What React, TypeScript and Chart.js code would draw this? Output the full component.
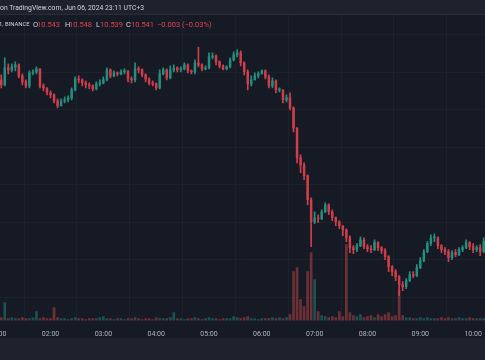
import React, { useEffect, useRef } from "react";
import { Chart, registerables } from "chart.js";

Chart.register(...registerables);

// 4-minute candles starting at 01:04 (minutes since 00:00)
const START_MIN = 64;
const STEP_MIN = 4;
const FIRST_OPEN = 12.2;

const closes = [
  12.15, 12.32, 12.30, 12.33, 12.35, 12.24, 12.18, 12.14, 12.27, 12.28,
  12.31, 12.14, 12.12, 12.07, 12.05, 11.99, 11.94, 11.99, 12.00, 12.02,
  12.10, 12.21, 12.20, 12.17, 12.15, 12.14, 12.11, 12.16, 12.17, 12.20,
  12.30, 12.24, 12.27, 12.26, 12.28, 12.29, 12.21, 12.20, 12.31, 12.30,
  12.25, 12.21, 12.17, 12.16, 12.12, 12.26, 12.30, 12.22, 12.30, 12.32,
  12.30, 12.31, 12.35, 12.29, 12.28, 12.37, 12.35, 12.31, 12.32, 12.43,
  12.44, 12.38, 12.34, 12.31, 12.33, 12.40, 12.45, 12.47, 12.37, 12.28,
  12.16, 12.20, 12.24, 12.26, 12.29, 12.23, 12.14, 12.19, 12.10, 12.10,
  12.00, 12.02, 11.92, 11.72, 11.42, 11.35, 11.24, 11.00, 10.78, 10.82,
  10.81, 10.88, 10.95, 10.88, 10.82, 10.78, 10.74, 10.70, 10.62, 10.52,
  10.50, 10.54, 10.60, 10.53, 10.51, 10.50, 10.57, 10.52, 10.49, 10.43,
  10.33, 10.28, 10.23, 10.15, 10.13, 10.19, 10.25, 10.24, 10.32, 10.39,
  10.48, 10.56, 10.62, 10.62, 10.54, 10.50, 10.48, 10.42, 10.47, 10.45,
  10.50, 10.52, 10.57, 10.53, 10.50, 10.52, 10.48, 10.58,
];

const highs = [
  12.25, 12.42, 12.36, 12.36, 12.38, 12.36, 12.26, 12.20, 12.29, 12.30,
  12.33, 12.31, 12.16, 12.12, 12.09, 12.06, 12.01, 12.01, 12.03, 12.04,
  12.12, 12.23, 12.24, 12.21, 12.19, 12.17, 12.15, 12.18, 12.20, 12.23,
  12.32, 12.31, 12.29, 12.28, 12.30, 12.31, 12.29, 12.23, 12.37, 12.33,
  12.31, 12.26, 12.22, 12.19, 12.17, 12.30, 12.32, 12.31, 12.34, 12.35,
  12.33, 12.33, 12.37, 12.36, 12.30, 12.40, 12.53, 12.36, 12.34, 12.47,
  12.47, 12.45, 12.39, 12.35, 12.34, 12.42, 12.48, 12.50, 12.49, 12.38,
  12.30, 12.24, 12.27, 12.28, 12.30, 12.30, 12.25, 12.22, 12.20, 12.12,
  12.10, 12.05, 12.07, 11.93, 11.72, 11.45, 11.37, 11.25, 11.02, 10.88,
  10.85, 10.90, 10.97, 10.96, 10.90, 10.83, 10.79, 10.74, 10.71, 10.64,
  10.54, 10.56, 10.63, 10.62, 10.55, 10.54, 10.60, 10.58, 10.53, 10.51,
  10.44, 10.34, 10.30, 10.24, 10.18, 10.21, 10.28, 10.28, 10.35, 10.42,
  10.50, 10.58, 10.65, 10.66, 10.63, 10.55, 10.52, 10.50, 10.49, 10.50,
  10.52, 10.54, 10.60, 10.58, 10.56, 10.54, 10.55, 10.62,
];

const lows = [
  12.12, 12.14, 12.26, 12.28, 12.29, 12.22, 12.15, 12.12, 12.12, 12.25,
  12.26, 12.12, 12.09, 12.05, 12.02, 11.97, 11.92, 11.94, 11.97, 11.98,
  12.00, 12.09, 12.17, 12.14, 12.12, 12.11, 12.09, 12.10, 12.14, 12.16,
  12.19, 12.22, 12.23, 12.24, 12.25, 12.26, 12.18, 12.17, 12.18, 12.27,
  12.23, 12.18, 12.15, 12.14, 12.10, 12.11, 12.25, 12.20, 12.21, 12.28,
  12.28, 12.28, 12.30, 12.27, 12.26, 12.26, 12.33, 12.29, 12.30, 12.31,
  12.41, 12.35, 12.32, 12.30, 12.30, 12.32, 12.39, 12.43, 12.34, 12.25,
  12.10, 12.14, 12.20, 12.22, 12.26, 12.21, 12.12, 12.12, 12.07, 12.08,
  11.97, 11.98, 11.90, 11.68, 11.37, 11.27, 11.20, 10.95, 10.53, 10.76,
  10.77, 10.80, 10.87, 10.85, 10.79, 10.74, 10.71, 10.64, 10.58, 10.47,
  10.46, 10.48, 10.53, 10.51, 10.48, 10.47, 10.49, 10.49, 10.46, 10.40,
  10.28, 10.24, 10.19, 10.04, 10.09, 10.11, 10.18, 10.22, 10.23, 10.31,
  10.38, 10.47, 10.54, 10.58, 10.51, 10.47, 10.45, 10.38, 10.40, 10.43,
  10.44, 10.48, 10.51, 10.50, 10.47, 10.48, 10.44, 10.47,
];

const volumes = [
  3, 18, 2, 3, 2, 2, 3, 2, 2, 3,
  9, 2, 3, 2, 2, 13, 3, 2, 2, 1,
  2, 3, 2, 2, 1, 2, 2, 2, 3, 4,
  2, 2, 1, 2, 2, 1, 2, 2, 3, 2,
  1, 2, 2, 1, 3, 2, 2, 2, 3, 8,
  2, 2, 1, 2, 2, 3, 2, 1, 2, 3,
  2, 2, 1, 2, 2, 2, 4, 3, 2, 3,
  4, 2, 2, 1, 2, 2, 2, 3, 2, 3,
  2, 3, 6, 49, 53, 21, 14, 49, 68, 41,
  9, 5, 4, 3, 4, 3, 9, 4, 76, 8,
  5, 4, 6, 3, 4, 5, 3, 6, 4, 6,
  8, 4, 5, 31, 5, 3, 3, 2, 2, 3,
  2, 3, 2, 2, 2, 3, 2, 3, 2, 2,
  3, 2, 2, 3, 2, 2, 2, 2,
];

const hourTicks = [60, 120, 180, 240, 300, 360, 420, 480, 540, 600];
const priceGrid = [10.025, 10.4, 10.775, 11.15, 11.525, 11.9, 12.275, 12.65];

const UP = "#23907f";
const DOWN = "#cf3f4b";
const UP_VOL = "rgba(38,166,154,0.4)";
const DOWN_VOL = "rgba(239,83,80,0.4)";

const BG = "#161a25";
const BAND = "#1e222d";

const fmtHour = (v: number) => {
  const h = Math.floor(v / 60);
  return (h < 10 ? "0" : "") + h + ":00";
};

const bgPlugin = {
  id: "bgPlugin",
  beforeDraw(chart: any) {
    const { ctx, width, height } = chart;
    ctx.save();
    ctx.fillStyle = BG;
    ctx.fillRect(0, 0, width, height);
    ctx.fillStyle = BAND;
    ctx.fillRect(0, 0, width, 14);
    ctx.fillStyle = "#2a2e39";
    ctx.fillRect(0, 14, width, 1);
    ctx.fillStyle = BAND;
    ctx.fillRect(0, 338, width, height - 338);
    ctx.restore();
  },
};

export default function App() {
  const ref = useRef<HTMLCanvasElement | null>(null);

  useEffect(() => {
    if (!ref.current) return;
    const times = closes.map((_, i) => START_MIN + i * STEP_MIN);
    const opens = closes.map((_, i) => (i === 0 ? FIRST_OPEN : closes[i - 1]));
    const up = closes.map((c, i) => c >= opens[i]);

    const chart = new Chart(ref.current, {
      type: "bar",
      data: {
        datasets: [
          {
            label: "Volume",
            yAxisID: "v",
            data: times.map((t, i) => ({ x: t, y: volumes[i] })) as any,
            backgroundColor: up.map((u) => (u ? UP_VOL : DOWN_VOL)),
            barThickness: 2,
            grouped: false,
            order: 3,
          } as any,
          {
            label: "Wicks",
            yAxisID: "y",
            data: times.map((t, i) => ({ x: t, y: [lows[i], highs[i]] })) as any,
            backgroundColor: up.map((u) => (u ? UP : DOWN)),
            barThickness: 1,
            grouped: false,
            order: 2,
          } as any,
          {
            label: "Bodies",
            yAxisID: "y",
            data: times.map((t, i) => ({ x: t, y: [opens[i], closes[i]] })) as any,
            backgroundColor: up.map((u) => (u ? UP : DOWN)),
            barThickness: 1.8,
            minBarLength: 1,
            grouped: false,
            order: 1,
          } as any,
        ],
      },
      options: {
        animation: false,
        responsive: false,
        maintainAspectRatio: false,
        layout: { padding: { top: 15, bottom: 13, left: 0, right: 0 } },
        plugins: { legend: { display: false }, tooltip: { enabled: false } },
        scales: {
          x: {
            type: "linear",
            min: 41.9,
            max: 636.2,
            offset: false,
            grid: { color: "#1d212c", drawTicks: false },
            border: { display: false },
            afterBuildTicks: (scale: any) => {
              scale.ticks = hourTicks.map((v) => ({ value: v }));
            },
            ticks: {
              autoSkip: false,
              maxRotation: 0,
              padding: 9,
              color: "#b2b5be",
              font: { family: "Roboto, sans-serif", size: 7 },
              callback: (v: any) => fmtHour(Number(v)),
            },
          },
          y: {
            type: "linear",
            min: 9.79,
            max: 12.85,
            grid: { color: "#1d212c", drawTicks: false },
            border: { display: false },
            afterBuildTicks: (scale: any) => {
              scale.ticks = priceGrid.map((v) => ({ value: v }));
            },
            ticks: { display: false },
          },
          v: {
            type: "linear",
            display: false,
            min: 0,
            max: 306,
          },
        },
      } as any,
      plugins: [bgPlugin],
    });
    return () => chart.destroy();
  }, []);

  const txt = "#d1d4dc";
  const red = "#e0434f";
  const base: React.CSSProperties = {
    position: "absolute",
    fontFamily: "Roboto, sans-serif",
    whiteSpace: "nowrap",
    lineHeight: "11px",
  };

  return (
    <div
      style={{
        position: "fixed",
        left: 0,
        top: 0,
        width: 485,
        height: 360,
        overflow: "hidden",
        background: BG,
      }}
    >
      <canvas
        ref={ref}
        width={525}
        height={360}
        style={{ position: "absolute", left: -20, top: 0, width: 525, height: 360 }}
      />
      <div style={{ ...base, left: 0, top: 3, fontSize: 6.8, color: txt }}>
        on TradingView.com, Jun 06, 2024 23:11 UTC+3
      </div>
      <div style={{ ...base, left: -1, top: 19, fontSize: 5.9, color: txt }}>1, BINANCE</div>
      <div style={{ ...base, left: 33, top: 19, fontSize: 7.5, color: txt }}>O</div>
      <div style={{ ...base, left: 37, top: 19, fontSize: 7.5, color: red }}>10.543</div>
      <div style={{ ...base, left: 65, top: 19, fontSize: 7.5, color: txt }}>H</div>
      <div style={{ ...base, left: 69, top: 19, fontSize: 7.5, color: red }}>10.548</div>
      <div style={{ ...base, left: 96, top: 19, fontSize: 7.5, color: txt }}>L</div>
      <div style={{ ...base, left: 100, top: 19, fontSize: 7.5, color: red }}>10.539</div>
      <div style={{ ...base, left: 126, top: 19, fontSize: 7.5, color: txt }}>C</div>
      <div style={{ ...base, left: 131, top: 19, fontSize: 7.5, color: red }}>10.541</div>
      <div style={{ ...base, left: 157, top: 19, fontSize: 7.5, color: red }}>−0.003 (−0.03%)</div>
    </div>
  );
}
